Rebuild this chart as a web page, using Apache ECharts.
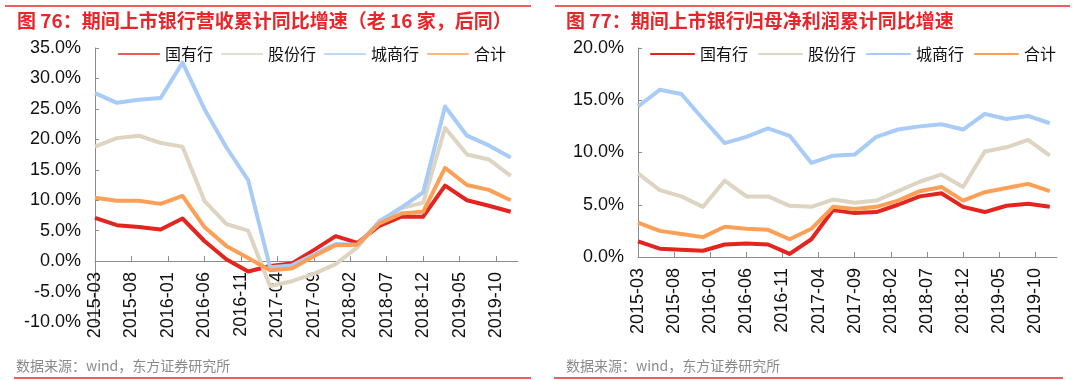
<!DOCTYPE html>
<html>
<head>
<meta charset="utf-8">
<script src="https://cdn.jsdelivr.net/npm/echarts@6/dist/echarts.min.js"></script>
<style>
html,body{margin:0;padding:0;background:#fff;}
#c{width:1080px;height:380px;}
</style>
</head>
<body>
<div id="c"></div>
<script>
// ---- data ----
const quarters = ['2015-03','2015-06','2015-09','2015-12','2016-03','2016-06','2016-09','2016-12',
  '2017-03','2017-06','2017-09','2017-12','2018-03','2018-06','2018-09','2018-12',
  '2019-03','2019-06','2019-09','2019-12'];
const axisStart = '2015-03';
const axisEnd = '2020-01';
const seriesNames = ['国有行','股份行','城商行','合计'];

// Left: 营收累计同比增速 (%)
const leftState = [7.1, 5.9, 5.6, 5.2, 7.0, 3.3, 0.3, -1.7, -0.8, -0.4, 1.8, 4.1, 3.0, 5.8, 7.3, 7.3, 12.4, 10.0, 9.1, 8.1];
const leftJoint = [18.8, 20.2, 20.6, 19.4, 18.8, 9.9, 6.1, 5.0, -4.1, -3.3, -2.1, -0.5, 2.3, 6.6, 8.7, 9.6, 21.9, 17.5, 16.7, 14.0];
const leftCity  = [27.6, 26.0, 26.5, 26.8, 32.6, 25.0, 18.7, 13.3, -1.0, -0.7, 1.1, 2.8, 2.7, 6.5, 8.8, 11.3, 25.4, 20.6, 19.0, 17.0];
const leftTotal = [10.4, 9.9, 9.9, 9.4, 10.7, 5.6, 2.5, 0.5, -1.5, -1.2, 0.8, 2.6, 2.7, 6.2, 7.8, 8.1, 15.3, 12.5, 11.7, 10.0];

// Right: 归母净利润累计同比增速 (%)
const rightState = [1.5, 0.8, 0.7, 0.6, 1.2, 1.3, 1.2, 0.3, 1.7, 4.5, 4.2, 4.3, 5.0, 5.8, 6.1, 4.8, 4.3, 4.9, 5.1, 4.8];
const rightJoint = [8.0, 6.4, 5.8, 4.8, 7.3, 5.8, 5.8, 4.9, 4.8, 5.5, 5.2, 5.4, 6.3, 7.2, 7.9, 6.7, 10.1, 10.5, 11.2, 9.7];
const rightCity  = [14.4, 16.0, 15.6, 13.2, 10.9, 11.5, 12.3, 11.6, 9.0, 9.7, 9.8, 11.5, 12.2, 12.5, 12.7, 12.2, 13.7, 13.2, 13.5, 12.8];
const rightTotal = [3.3, 2.5, 2.2, 1.9, 2.9, 2.7, 2.6, 1.7, 2.7, 4.8, 4.6, 4.8, 5.4, 6.3, 6.7, 5.4, 6.2, 6.6, 7.0, 6.3];

const leftTitle = '图 76：期间上市银行营收累计同比增速（老 16 家，后同）';
const rightTitle = '图 77：期间上市银行归母净利润累计同比增速';
const sourceText = '数据来源：wind，东方证券研究所';

// ---- build monthly category axis ----
function buildMonths(s, e) {
  let [y, m] = s.split('-').map(Number);
  const [ey, em] = e.split('-').map(Number);
  const out = [];
  while (y < ey || (y === ey && m <= em)) {
    out.push(y + '-' + String(m).padStart(2, '0'));
    m++; if (m > 12) { m = 1; y++; }
  }
  return out;
}
const months = buildMonths(axisStart, axisEnd);
function toMonthly(vals) {
  const arr = months.map(() => null);
  quarters.forEach((q, i) => { const k = months.indexOf(q); if (k >= 0) arr[k] = vals[i]; });
  return arr;
}

const colors = ['#e3241f', '#ddd4c1', '#a8cbf8', '#fd9f57'];
const FONT = "'Liberation Sans', 'Noto Sans CJK SC', sans-serif";
const CJK = "'Noto Sans CJK SC', 'Liberation Sans', sans-serif";
const axisGray = '#8c8c8c';

const LEFT_GRID = { left: 95, top: 48, width: 423, height: 274 };
const RIGHT_GRID = { left: 638, top: 48, width: 419, height: 209 };
const leftMin = -10, leftMax = 35;
// shift left x-axis up so it sits on the zero line
const leftZeroOffset = -LEFT_GRID.height * (0 - leftMin) / (leftMax - leftMin);

function mkX(gi, offset) {
  return {
    type: 'category', gridIndex: gi, data: months, boundaryGap: false,
    position: 'bottom', offset: offset,
    axisLine: { onZero: false, lineStyle: { color: axisGray, width: 1 } },
    axisTick: { show: true, inside: true, length: 5, interval: 4, lineStyle: { color: axisGray } },
    axisLabel: { interval: 4, rotate: 90, margin: 11, fontSize: 18, color: '#111', fontFamily: FONT },
    splitLine: { show: false }
  };
}
function mkY(gi, min, max) {
  return {
    type: 'value', gridIndex: gi, min: min, max: max, interval: 5,
    axisLine: { show: true, onZero: false, lineStyle: { color: axisGray, width: 1 } },
    axisTick: { show: true, inside: true, length: 4, lineStyle: { color: axisGray } },
    axisLabel: { margin: 14, fontSize: 18, color: '#111', fontFamily: FONT,
      formatter: v => v.toFixed(1) + '%' },
    splitLine: { show: false }
  };
}
function mkSeries(name, vals, idx, gi) {
  return {
    name: name, type: 'line', xAxisIndex: gi, yAxisIndex: gi,
    data: toMonthly(vals), connectNulls: true, showSymbol: false, symbol: 'none',
    lineStyle: { width: 4, color: colors[idx], join: 'round' },
    itemStyle: { color: colors[idx] },
    emphasis: { disabled: true }, animation: false
  };
}

const legendIcon = 'path://M2,0 L98,0 A2,2 0 0 1 98,4 L2,4 A2,2 0 0 1 2,0 Z';

const option = {
  animation: false,
  grid: [
    Object.assign({ outerBoundsMode: 'none', containLabel: false }, LEFT_GRID),
    Object.assign({ outerBoundsMode: 'none', containLabel: false }, RIGHT_GRID)
  ],
  xAxis: [mkX(0, leftZeroOffset), mkX(1, 0)],
  yAxis: [mkY(0, leftMin, leftMax), mkY(1, 0, 20)],
  legend: [
    { data: seriesNames.map(n => ({ name: n })), left: 113, top: 41, itemWidth: 42, itemHeight: 4.5, itemGap: 8,
      icon: legendIcon, selectedMode: false,
      textStyle: { fontSize: 16, color: '#111', fontFamily: CJK } },
    { data: seriesNames.map(n => ({ name: n })), left: 645, top: 41, itemWidth: 45, itemHeight: 4.5, itemGap: 10,
      icon: legendIcon, selectedMode: false,
      textStyle: { fontSize: 16, color: '#111', fontFamily: CJK } }
  ],
  series: [
    mkSeries('国有行', leftState, 0, 0),
    mkSeries('股份行', leftJoint, 1, 0),
    mkSeries('城商行', leftCity, 2, 0),
    mkSeries('合计', leftTotal, 3, 0),
    mkSeries('国有行', rightState, 0, 1),
    mkSeries('股份行', rightJoint, 1, 1),
    mkSeries('城商行', rightCity, 2, 1),
    mkSeries('合计', rightTotal, 3, 1)
  ],
  graphic: [
    { type: 'line', shape: { x1: 5, y1: 6, x2: 531, y2: 6 }, style: { stroke: '#e8262a', lineWidth: 1.5 } },
    { type: 'line', shape: { x1: 555, y1: 6, x2: 1070, y2: 6 }, style: { stroke: '#e8262a', lineWidth: 1.5 } },
    { type: 'line', shape: { x1: 14, y1: 378, x2: 531, y2: 378 }, style: { stroke: '#e8262a', lineWidth: 1.5 } },
    { type: 'line', shape: { x1: 554, y1: 378, x2: 1063, y2: 378 }, style: { stroke: '#e8262a', lineWidth: 1.5 } },
    { type: 'text', x: 17, y: 21, style: { text: leftTitle, fill: '#e8262a', fontSize: 19, fontWeight: 'bold',
        fontFamily: CJK, verticalAlign: 'middle' } },
    { type: 'text', x: 566, y: 21, style: { text: rightTitle, fill: '#e8262a', fontSize: 19, fontWeight: 'bold',
        fontFamily: CJK, verticalAlign: 'middle' } },
    { type: 'text', x: 16, y: 366, style: { text: sourceText, fill: '#8a8a8a', fontSize: 14,
        fontFamily: CJK, verticalAlign: 'middle' } },
    { type: 'text', x: 566, y: 366, style: { text: sourceText, fill: '#8a8a8a', fontSize: 14,
        fontFamily: CJK, verticalAlign: 'middle' } }
  ]
};

const chart = echarts.init(document.getElementById('c'), null, { renderer: 'canvas' });
chart.setOption(option);
</script>
</body>
</html>
